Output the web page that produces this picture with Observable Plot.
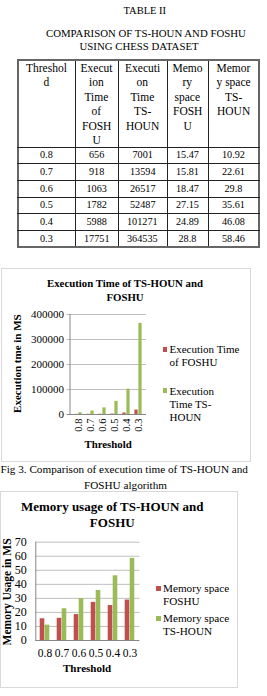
<!DOCTYPE html>
<html>
<head>
<meta charset="utf-8">
<script src="https://cdn.jsdelivr.net/npm/d3@7"></script>
<script src="https://cdn.jsdelivr.net/npm/@observablehq/plot@0.6"></script>
<style>
  html, body { margin: 0; padding: 0; background: #fff; }
  body { position: relative; width: 267px; height: 696px; overflow: hidden; font-family: "Liberation Serif", "Times New Roman", serif; color: #000; }
  .abs { position: absolute; white-space: nowrap; }
  .b { font-weight: bold; }
  .box { position: absolute; border: 1px solid #d9d9d9; box-sizing: border-box; }
  svg { position: absolute; overflow: visible; }
</style>
</head>
<body>
<script>
// ---------- data ----------
const thresholds = ["0.8", "0.7", "0.6", "0.5", "0.4", "0.3"];
const execFoshu = [656, 918, 1063, 1782, 5988, 17751];
const execTsHoun = [7001, 13594, 26517, 52487, 101271, 364535];
const memFoshu = [15.47, 15.81, 18.47, 27.15, 24.89, 28.8];
const memTsHoun = [10.92, 22.61, 29.8, 35.61, 46.08, 58.46];
const headerLines = [
  ["Threshol", "d"],
  ["Execut", "ion", "Time", "of", "FOSH", "U"],
  ["Executi", "on", "Time", "TS-", "HOUN"],
  ["Memo", "ry", "space", "FOSH", "U"],
  ["Memor", "y space", "TS-", "HOUN"]
];
const execSeries = ["Execution Time of FOSHU", "Execution Time TS-HOUN"];
const memSeries = ["Memory space FOSHU", "Memory space TS-HOUN"];
const execTicks = [0, 100000, 200000, 300000, 400000];
const memTicks = [0, 10, 20, 30, 40, 50, 60, 70];

const RED = "#C0504D", GREEN = "#9BBB59";
const body = document.body;

// cy = centre of the FIRST line (for non-rotated text)
function text(str, cx, cy, size, opts = {}) {
  const d = document.createElement("div");
  d.className = "abs" + (opts.bold ? " b" : "");
  const lh = opts.lh || size * 1.2;
  d.style.fontSize = size + "px";
  d.style.lineHeight = lh + "px";
  d.innerHTML = str;
  body.appendChild(d);
  const w = d.offsetWidth, h = d.offsetHeight;
  if (opts.rotate) {
    d.style.left = (cx - w / 2) + "px";
    d.style.top = (cy - h / 2) + "px";
    d.style.transform = "rotate(-90deg)";
  } else if (opts.left !== undefined) {
    d.style.left = opts.left + "px";
    d.style.top = (cy - lh / 2) + "px";
  } else {
    d.style.left = (cx - w / 2) + "px";
    d.style.top = (cy - lh / 2) + "px";
    d.style.textAlign = "center";
  }
  return d;
}
function rect(x, y, w, h, color) {
  const d = document.createElement("div");
  d.className = "abs";
  Object.assign(d.style, {left: x + "px", top: y + "px", width: w + "px", height: h + "px", background: color, fontSize: "0", lineHeight: "0"});
  body.appendChild(d);
}
function box(l, t, r, b) {
  const d = document.createElement("div");
  d.className = "box";
  Object.assign(d.style, {left: l + "px", top: t + "px", width: (r - l) + "px", height: (b - t) + "px"});
  body.appendChild(d);
}

// ---------- table ----------
text("TABLE II", 145, 11.7, 10.5);
text("COMPARISON OF TS-HOUN AND FOSHU", 146, 33, 10.8);
text("USING CHESS DATASET", 139, 46.7, 10.8);

const colX = [18, 75, 118, 167, 208, 259];
const tTop = 60, hBottom = 147, rowH = 100 / 6;
headerLines.forEach((lines, j) => {
  const cx = (colX[j] + colX[j + 1]) / 2;
  lines.forEach((ln, k) => text(ln, cx, 68 + k * 14.4, 11.5, {lh: 14}));
});
const tableRows = thresholds.map((t, i) => [t, execFoshu[i], execTsHoun[i], memFoshu[i], memTsHoun[i]]);
tableRows.forEach((row, i) => {
  const cy = hBottom + rowH * (i + 0.5);
  row.forEach((v, j) => text(String(v), (colX[j] + colX[j + 1]) / 2, cy, 10.2));
});
const tBottom = hBottom + rowH * 6;
colX.forEach((x, j) => {
  const outer = j === 0 || j === colX.length - 1;
  rect(x - (outer ? 1 : 0.5), tTop, outer ? 2 : 1, tBottom - tTop, outer ? "#666" : "#222");
});
const rowY = [tTop, hBottom];
for (let i = 1; i <= 6; i++) rowY.push(hBottom + rowH * i);
rowY.forEach((y, i) => {
  const outer = i === 0 || i === rowY.length - 1;
  rect(colX[0] - 1, y - (outer ? 1 : 0.5), colX[5] - colX[0] + 2, outer ? 2 : 1, outer ? "#666" : "#222");
});

// ---------- chart 1 ----------
box(1, 268, 251, 462);
const execRows = thresholds.flatMap((t, i) => [
  {t, s: execSeries[0], v: execFoshu[i]},
  {t, s: execSeries[1], v: execTsHoun[i]}
]);
const p1 = Plot.plot({
  width: 250, height: 193,
  marginLeft: 69.5, marginRight: 104, marginTop: 46, marginBottom: 47,
  style: {fontFamily: "Liberation Serif, serif", fontSize: "10.5px", background: "transparent", color: "#000", overflow: "visible"},
  x: {domain: thresholds, padding: 0, axis: null},
  y: {domain: [0, 400000], axis: null},
  color: {domain: execSeries, range: [RED, GREEN]},
  marks: [
    Plot.gridY(execTicks.slice(1), {stroke: "#bfbfbf", strokeOpacity: 1, insetLeft: -3}),
    Plot.axisY({ticks: execTicks, tickFormat: d => String(d), tickSize: 0, tickPadding: 6, label: null, fontSize: 11}),
    Plot.barY(execRows.filter(d => d.s === execSeries[0]), {x: "t", y: "v", fill: "s", insetLeft: 2.4, insetRight: 6.4}),
    Plot.barY(execRows.filter(d => d.s === execSeries[1]), {x: "t", y: "v", fill: "s", insetLeft: 6.4, insetRight: 2.4}),
    Plot.ruleY([0], {stroke: "#868686", insetLeft: -3}),
    Plot.frame({anchor: "left", stroke: "#868686"}),
    Plot.text(thresholds, {x: d => d, frameAnchor: "bottom", rotate: -90, textAnchor: "end", lineAnchor: "middle", dy: 4, fontSize: 10.5})
  ]
});
p1.style.left = "0px"; p1.style.top = "268px";
body.appendChild(p1);

text("Execution Time of TS-HOUN and<br>FOSHU", 125, 283, 10.8, {bold: true, lh: 14});
text("Execution tme in MS", 17, 363, 11, {bold: true, rotate: true});
text("Threshold", 108, 444, 10.8, {bold: true});
rect(162.5, 347, 4.5, 4.5, RED);
text("Execution Time<br>of FOSHU", 0, 349.3, 11, {left: 169.5, lh: 12.5});
rect(162.5, 388, 4.5, 4.5, GREEN);
text("Execution<br>Time TS-<br>HOUN", 0, 391, 11, {left: 169.5, lh: 13});

text("Fig 3. Comparison of execution time of TS-HOUN and", 124, 469.3, 11.2);
text("FOSHU algorithm", 125.5, 485.7, 11.2);

// ---------- chart 2 ----------
box(0, 491, 238, 688);
const memRows = thresholds.flatMap((t, i) => [
  {t, s: memSeries[0], v: memFoshu[i]},
  {t, s: memSeries[1], v: memTsHoun[i]}
]);
const p2 = Plot.plot({
  width: 237, height: 196,
  marginLeft: 35.3, marginRight: 97.6, marginTop: 50.7, marginBottom: 47,
  style: {fontFamily: "Liberation Serif, serif", fontSize: "11.5px", background: "transparent", color: "#000", overflow: "visible"},
  x: {domain: thresholds, padding: 0, axis: null},
  y: {domain: [0, 70], axis: null},
  color: {domain: memSeries, range: [RED, GREEN]},
  marks: [
    Plot.gridY(memTicks.slice(1), {stroke: "#bfbfbf", strokeOpacity: 1}),
    Plot.axisY({ticks: memTicks, tickSize: 0, tickPadding: 9, label: null, fontSize: 12}),
    Plot.barY(memRows.filter(d => d.s === memSeries[0]), {x: "t", y: "v", fill: "s", insetLeft: 3.7, insetRight: 8.7}),
    Plot.barY(memRows.filter(d => d.s === memSeries[1]), {x: "t", y: "v", fill: "s", insetLeft: 8.7, insetRight: 3.7}),
    Plot.ruleY([0], {stroke: "#868686"}),
    Plot.frame({anchor: "left", stroke: "#868686"}),
    Plot.axisX({tickSize: 0, tickPadding: 8, label: null, fontSize: 11.5})
  ]
});
p2.style.left = "0px"; p2.style.top = "491px";
body.appendChild(p2);

text("Memory usage of TS-HOUN and<br>FOSHU", 112, 507, 13, {bold: true, lh: 16});
text("Memory Usage in MS", 7.5, 592, 11.5, {bold: true, rotate: true});
text("Threshold", 87, 669, 11, {bold: true});
rect(155.5, 585.5, 5, 5, RED);
text("Memory space<br>FOSHU", 0, 588, 11.2, {left: 163, lh: 13});
rect(155.5, 615.5, 5, 5, GREEN);
text("Memory space<br>TS-HOUN", 0, 618, 11.2, {left: 163, lh: 13});
</script>
</body>
</html>
